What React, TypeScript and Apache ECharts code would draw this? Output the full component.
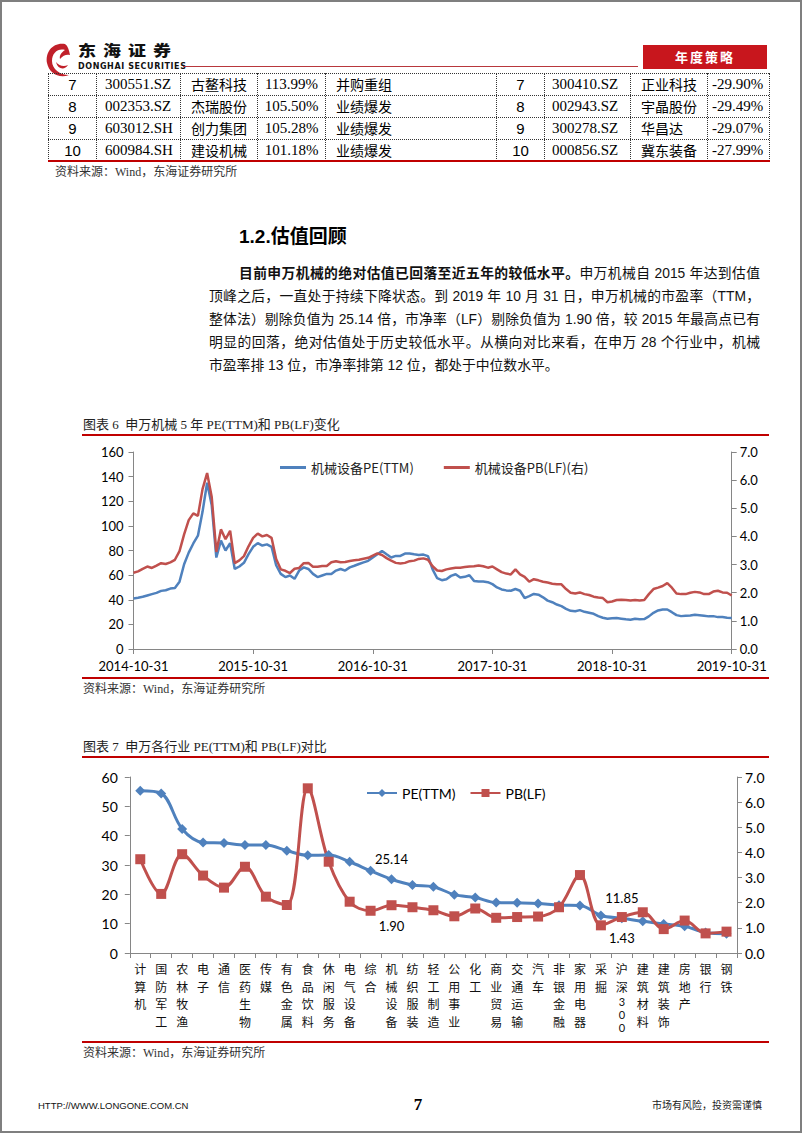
import React, { useEffect, useRef } from "react";
import * as echarts from "echarts";

// ---------- table data ----------
const GAIN_RANK = ["7", "8", "9", "10"];
const GAIN_CODE = ["300551.SZ", "002353.SZ", "603012.SH", "600984.SH"];
const GAIN_NAME = ["古鳌科技", "杰瑞股份", "创力集团", "建设机械"];
const GAIN_PCT = ["113.99%", "105.50%", "105.28%", "101.18%"];
const GAIN_REASON = ["并购重组", "业绩爆发", "业绩爆发", "业绩爆发"];
const LOSS_RANK = ["7", "8", "9", "10"];
const LOSS_CODE = ["300410.SZ", "002943.SZ", "300278.SZ", "000856.SZ"];
const LOSS_NAME = ["正业科技", "宇晶股份", "华昌达", "冀东装备"];
const LOSS_PCT = ["-29.90%", "-29.49%", "-29.07%", "-27.99%"];

// ---------- chart 6 data (sampled ~ every two weeks, 2014-10-31 .. 2019-10-31) ----------
const TREND_TICKS = ["2014-10-31", "2015-10-31", "2016-10-31", "2017-10-31", "2018-10-31", "2019-10-31"];
const TREND_SPAN_DAYS = 1826;
const PE_TREND = [
  41.1, 41.6, 42.4, 43.5, 44.6, 45.6, 47.2, 47.7, 49.1, 49.5,
  54.7, 68.8, 78.3, 85.7, 92.0, 111.4, 135.0, 116.7, 74.3, 88.0,
  80.0, 86.0, 65.0, 67.0, 70.0, 77.0, 83.0, 86.0, 84.0, 85.0,
  83.0, 68.0, 61.0, 58.4, 59.7, 57.0, 63.7, 66.3, 65.0, 61.0,
  58.4, 59.7, 61.0, 61.0, 63.7, 65.0, 63.7, 66.3, 67.6, 69.0,
  70.3, 71.6, 74.3, 76.9, 79.6, 76.9, 74.3, 75.6, 75.6, 77.5,
  77.5, 76.9, 76.4, 76.7, 75.4, 64.7, 57.5, 55.9, 56.7, 59.4,
  60.7, 58.0, 58.6, 59.9, 55.3, 54.8, 54.8, 54.3, 52.7, 50.0,
  48.4, 47.6, 47.3, 48.7, 47.3, 41.4, 43.0, 44.7, 44.1, 42.0,
  39.3, 38.0, 36.1, 34.8, 32.6, 31.0, 30.7, 31.6, 30.2, 29.4,
  28.6, 26.7, 25.4, 24.6, 24.9, 25.1, 24.6, 24.1, 23.8, 24.6,
  24.1, 24.3, 26.5, 29.4, 31.3, 32.1, 32.1, 29.9, 27.5, 26.7,
  27.0, 27.3, 27.8, 27.5, 27.0, 26.5, 26.7, 25.9, 25.9, 25.4,
  25.14,
];
const PB_TREND = [
  2.71, 2.76, 2.85, 2.93, 2.88, 2.96, 3.05, 3.02, 3.08, 3.17,
  3.48, 4.07, 4.58, 4.82, 4.73, 5.68, 6.25, 5.40, 3.45, 4.25,
  3.90, 4.20, 3.05, 3.15, 3.30, 3.65, 3.95, 4.10, 4.00, 4.05,
  3.95, 3.20, 2.83, 2.78, 2.70, 2.85, 2.88, 3.05, 3.06, 2.92,
  2.92, 2.95, 2.95, 3.08, 3.12, 3.08, 3.09, 3.13, 3.15, 3.17,
  3.21, 3.24, 3.32, 3.40, 3.34, 3.23, 3.14, 3.06, 3.04, 3.06,
  3.12, 3.14, 3.20, 3.22, 3.17, 2.94, 2.79, 2.77, 2.83, 2.86,
  2.89, 2.89, 2.91, 2.93, 2.94, 2.97, 2.94, 2.89, 2.93, 2.83,
  2.73, 2.68, 2.65, 2.83, 2.65, 2.56, 2.39, 2.48, 2.44, 2.39,
  2.36, 2.32, 2.30, 2.30, 2.13, 2.00, 1.97, 2.01, 1.95, 1.92,
  1.86, 1.83, 1.81, 1.66, 1.69, 1.74, 1.75, 1.74, 1.72, 1.74,
  1.72, 1.74, 1.95, 2.13, 2.18, 2.24, 2.34, 2.18, 1.97, 1.95,
  1.95, 2.00, 2.03, 2.01, 1.95, 1.95, 2.04, 2.07, 2.01, 2.00,
  1.90,
];

// ---------- chart 7 data ----------
const INDUSTRIES = [
  "计算机", "国防军工", "农林牧渔", "电子", "通信", "医药生物", "传媒", "有色金属", "食品饮料", "休闲服务",
  "电气设备", "综合", "机械设备", "纺织服装", "轻工制造", "公用事业", "化工", "商业贸易", "交通运输", "汽车",
  "非银金融", "家用电器", "采掘", "沪深300", "建筑材料", "建筑装饰", "房地产", "银行", "钢铁",
];
const INDUSTRY_PE = [
  55.3, 54.4, 42.3, 37.7, 37.5, 36.8, 36.8, 34.9, 33.3, 33.4,
  31.1, 28.0, 25.14, 23.2, 22.6, 19.9, 18.9, 17.2, 17.1, 16.9,
  16.3, 16.2, 12.8, 11.85, 10.8, 9.9, 9.1, 7.0, 6.6,
];
const INDUSTRY_PB = [
  3.73, 2.35, 3.93, 3.08, 2.60, 3.43, 2.24, 1.91, 6.55, 3.63,
  2.04, 1.68, 1.90, 1.82, 1.70, 1.46, 1.77, 1.40, 1.43, 1.45,
  1.82, 3.10, 1.10, 1.43, 1.62, 0.95, 1.29, 0.78, 0.85,
];
const HIGHLIGHT = ["机械设备", "沪深300"];

const BLUE = "#4F81BD";
const RED = "#C0504D";
const RULE = "#c00000";
const AXIS = "#868686";
const CJK = '"Noto Sans CJK SC", sans-serif';
const SERIF = '"Liberation Serif", "Noto Sans CJK SC", serif';
const SANS = '"Liberation Sans", "Noto Sans CJK SC", sans-serif';
const NUM = 'Lato, "Liberation Sans", sans-serif';

function trendOption(): any {
  const step = TREND_SPAN_DAYS / (PE_TREND.length - 1);
  const tickStep = TREND_SPAN_DAYS / 5;
  const axisCommon = {
    axisLine: { show: true, lineStyle: { color: AXIS, width: 1 } },
    axisTick: { show: true, length: 5, lineStyle: { color: AXIS } },
    splitLine: { show: false },
  };
  return {
    animation: false,
    grid: { left: 73.5, right: 48.3, top: 12, bottom: 27 },
    legend: {
      top: 16,
      left: 215,
      icon: "rect",
      itemWidth: 26,
      itemHeight: 3,
      itemGap: 30,
      textStyle: { fontFamily: CJK, fontSize: 13, color: "#222" },
      data: ["机械设备PE(TTM)", "机械设备PB(LF)(右)"],
    },
    xAxis: {
      type: "value",
      min: 0,
      max: TREND_SPAN_DAYS,
      interval: tickStep,
      ...axisCommon,
      axisLabel: {
        formatter: (v: number) => TREND_TICKS[Math.round(v / tickStep)] ?? "",
        fontFamily: NUM,
        fontSize: 13,
        color: "#000",
        margin: 10,
        showMinLabel: true,
        showMaxLabel: true,
      },
    },
    yAxis: [
      {
        type: "value",
        min: 0,
        max: 160,
        interval: 20,
        ...axisCommon,
        axisLabel: { fontFamily: NUM, fontSize: 13, color: "#000", margin: 10 },
      },
      {
        type: "value",
        min: 0,
        max: 7,
        interval: 1,
        position: "right",
        ...axisCommon,
        axisLabel: {
          fontFamily: NUM,
          fontSize: 13,
          color: "#000",
          margin: 8,
          formatter: (v: number) => v.toFixed(1),
        },
      },
    ],
    series: [
      {
        name: "机械设备PE(TTM)",
        type: "line",
        showSymbol: false,
        data: PE_TREND.map((v, i) => [i * step, v]),
        lineStyle: { color: BLUE, width: 2.5 },
        itemStyle: { color: BLUE },
      },
      {
        name: "机械设备PB(LF)(右)",
        type: "line",
        yAxisIndex: 1,
        showSymbol: false,
        data: PB_TREND.map((v, i) => [i * step, v]),
        lineStyle: { color: RED, width: 2.5 },
        itemStyle: { color: RED },
      },
    ],
  };
}

function industryOption(): any {
  const axisCommon = {
    axisLine: { show: true, lineStyle: { color: AXIS, width: 1 } },
    axisTick: { show: true, length: 5, lineStyle: { color: AXIS } },
    splitLine: { show: false },
  };
  const hi = HIGHLIGHT.map((n) => INDUSTRIES.indexOf(n));
  const labelFont = { fontFamily: NUM, fontSize: 13, color: "#000" };
  return {
    animation: false,
    grid: { left: 69.8, right: 43, top: 12, bottom: 87 },
    legend: {
      top: 16,
      left: 301,
      itemWidth: 30,
      itemHeight: 10,
      itemGap: 14,
      textStyle: { fontFamily: NUM, fontSize: 14, color: "#000" },
      data: ["PE(TTM)", "PB(LF)"],
    },
    xAxis: {
      type: "category",
      data: INDUSTRIES,
      ...axisCommon,
      axisTick: { show: true, length: 5, alignWithLabel: false, lineStyle: { color: AXIS } },
      axisLabel: {
        interval: 0,
        formatter: (v: string) =>
          v
            .split("")
            .map((ch) => (/[0-9]/.test(ch) ? "{d|" + ch + "}" : ch))
            .join("\n"),
        rich: { d: { fontFamily: NUM, fontSize: 11, lineHeight: 13, color: "#111" } },
        fontFamily: CJK,
        fontSize: 12,
        lineHeight: 17.5,
        color: "#111",
        margin: 7,
        verticalAlign: "top",
      },
    },
    yAxis: [
      {
        type: "value",
        min: 0,
        max: 60,
        interval: 10,
        ...axisCommon,
        axisLabel: { fontFamily: NUM, fontSize: 14, color: "#000", margin: 12 },
      },
      {
        type: "value",
        min: 0,
        max: 7,
        interval: 1,
        position: "right",
        ...axisCommon,
        axisLabel: {
          fontFamily: NUM,
          fontSize: 14,
          color: "#000",
          margin: 8,
          formatter: (v: number) => v.toFixed(1),
        },
      },
    ],
    series: [
      {
        name: "PE(TTM)",
        type: "line",
        smooth: 0.35,
        symbol: "diamond",
        symbolSize: 10,
        data: INDUSTRY_PE.map((v, i) =>
          hi.includes(i)
            ? { value: v, label: { show: true, position: "top", distance: 9, formatter: v.toFixed(2), ...labelFont } }
            : v
        ),
        lineStyle: { color: BLUE, width: 3 },
        itemStyle: { color: BLUE },
      },
      {
        name: "PB(LF)",
        type: "line",
        yAxisIndex: 1,
        smooth: 0.35,
        symbol: "rect",
        symbolSize: 10,
        data: INDUSTRY_PB.map((v, i) =>
          hi.includes(i)
            ? { value: v, label: { show: true, position: "bottom", distance: 9, formatter: v.toFixed(2), ...labelFont } }
            : v
        ),
        lineStyle: { color: RED, width: 3 },
        itemStyle: { color: RED },
      },
    ],
  };
}

const COLS = [
  { x: 48, w: 48, align: "center", pad: 0, font: SANS, size: 15 },
  { x: 96, w: 84, align: "left", pad: 8, font: SERIF, size: 15 },
  { x: 180, w: 77, align: "left", pad: 10, font: CJK, size: 14 },
  { x: 257, w: 68, align: "center", pad: 0, font: SERIF, size: 15 },
  { x: 325, w: 171, align: "left", pad: 10, font: CJK, size: 14 },
  { x: 496, w: 48, align: "center", pad: 0, font: SANS, size: 15 },
  { x: 544, w: 86, align: "left", pad: 7, font: SERIF, size: 15 },
  { x: 630, w: 77, align: "left", pad: 10, font: CJK, size: 14 },
  { x: 707, w: 62, align: "left", pad: 4, font: SERIF, size: 15 },
];
const TABLE_TOP = 73;
const ROW_H = 22;

const abs = (s: React.CSSProperties): React.CSSProperties => ({ position: "absolute", ...s });

export default function App() {
  const c6 = useRef<HTMLDivElement>(null);
  const c7 = useRef<HTMLDivElement>(null);

  useEffect(() => {
    const ch6 = echarts.init(c6.current!, null, { renderer: "svg" });
    ch6.setOption(trendOption());
    const ch7 = echarts.init(c7.current!, null, { renderer: "svg" });
    ch7.setOption(industryOption());
    return () => {
      ch6.dispose();
      ch7.dispose();
    };
  }, []);

  const rows = GAIN_RANK.map((_, r) => [
    GAIN_RANK[r], GAIN_CODE[r], GAIN_NAME[r], GAIN_PCT[r], GAIN_REASON[r],
    LOSS_RANK[r], LOSS_CODE[r], LOSS_NAME[r], LOSS_PCT[r],
  ]);
  const vLines = [...COLS.map((c) => c.x), 769];

  const paraLine = (top: number, left: number, width: number, justify: boolean, content: React.ReactNode) => (
    <div
      style={abs({
        left,
        top,
        width,
        height: 23,
        lineHeight: "23px",
        fontSize: 13.8,
        fontFamily: SANS,
        color: "#111",
        whiteSpace: "nowrap",
        textAlign: justify ? "justify" : "left",
        textAlignLast: justify ? "justify" : "left",
      } as any)}
    >
      {content}
    </div>
  );

  return (
    <div style={abs({ left: 0, top: 0, width: 802, height: 1133, background: "#fff", overflow: "hidden" })}>
      {/* page frame */}
      <div style={abs({ left: 0, top: 0, width: 802, height: 1133, border: "2px solid #7f7f7f", boxSizing: "border-box" })} />

      {/* header */}
      <svg style={abs({ left: 44, top: 40 })} width="30" height="40" viewBox="0 0 30 40">
        <path d="M21 4 C9 2 1 12 3 23 C5 33 15 39 25 35 C16 35 8 29 8 21 C8 13 14 8 21 10 C18 12 15 15 16 19 C19 15 23 14 26 15 C25 10 24 6 21 4 Z" fill="#c0202a" />
        <path d="M12 22 C15 26 20 27 24 25 C21 30 14 30 12 22 Z" fill="#c0202a" />
      </svg>
      <div style={abs({ left: 78, top: 42, fontFamily: CJK, fontWeight: 900, fontSize: 18, letterSpacing: 7, color: "#111", lineHeight: "19px", transform: "scaleY(0.8)", transformOrigin: "top left" })}>东海证券</div>
      <div style={abs({ left: 78, top: 62, fontFamily: '"DejaVu Sans", sans-serif', fontWeight: 700, fontSize: 8, letterSpacing: 0.6, color: "#111", lineHeight: "9px" })}>DONGHAI SECURITIES</div>
      <div style={abs({ left: 183, top: 66, width: 455, height: 1, background: "#b8373c" })} />
      <div style={abs({ left: 643, top: 45, width: 124, height: 24, background: "#c8161d", color: "#fff", fontFamily: CJK, fontWeight: 700, fontSize: 13, letterSpacing: 2, textAlign: "center", lineHeight: "24px" })}>年度策略</div>

      {/* table */}
      {[0, 1, 2, 3].map((r) => (
        <div key={"h" + r} style={abs({ left: 48, top: TABLE_TOP + r * ROW_H, width: 721, height: 0, borderTop: "1px dotted #333" })} />
      ))}
      {vLines.map((x, i) => (
        <div key={"v" + i} style={abs({ left: x, top: TABLE_TOP, width: 0, height: ROW_H * 4, borderLeft: "1px dotted #333" })} />
      ))}
      <div style={abs({ left: 48, top: TABLE_TOP + ROW_H * 4 - 1, width: 722, height: 2, background: RULE })} />
      {rows.map((row, r) =>
        row.map((txt, c) => {
          const col = COLS[c];
          return (
            <div
              key={r + "-" + c}
              style={abs({
                left: col.x + 1 + (col.align === "left" ? col.pad : 0),
                top: TABLE_TOP + r * ROW_H + 1,
                width: col.align === "left" ? col.w - col.pad - 1 : col.w - 1,
                height: ROW_H - 1,
                lineHeight: ROW_H - 1 + "px",
                textAlign: col.align as any,
                fontFamily: col.font,
                fontSize: col.size,
                color: "#000",
                whiteSpace: "nowrap",
              })}
            >
              {txt}
            </div>
          );
        })
      )}
      <div style={abs({ left: 55, top: 164, fontFamily: SERIF, fontSize: 12, color: "#333", lineHeight: "16px" })}>资料来源：Wind，东海证券研究所</div>

      {/* section text */}
      <div style={abs({ left: 239, top: 225, fontFamily: SANS, fontWeight: 700, fontSize: 19, color: "#000", lineHeight: "24px" })}>1.2.估值回顾</div>
      {paraLine(262, 239, 521, true, (
        <>
          <b>目前申万机械的绝对估值已回落至近五年的较低水平。</b>申万机械自 2015 年达到估值
        </>
      ))}
      {paraLine(285, 209, 551, true, "顶峰之后，一直处于持续下降状态。到 2019 年 10 月 31 日，申万机械的市盈率（TTM，")}
      {paraLine(308, 209, 551, true, "整体法）剔除负值为 25.14 倍，市净率（LF）剔除负值为 1.90 倍，较 2015 年最高点已有")}
      {paraLine(331, 209, 551, true, "明显的回落，绝对估值处于历史较低水平。从横向对比来看，在申万 28 个行业中，机械")}
      {paraLine(354, 209, 551, false, "市盈率排 13 位，市净率排第 12 位，都处于中位数水平。")}

      {/* chart 6 */}
      <div style={abs({ left: 83, top: 416, fontFamily: SERIF, fontSize: 13, color: "#222", whiteSpace: "pre", lineHeight: "17px" })}>图表 6  申万机械 5 年 PE(TTM)和 PB(LF)变化</div>
      <div style={abs({ left: 82, top: 434, width: 687, height: 2, background: RULE })} />
      <div ref={c6} style={abs({ left: 60, top: 440, width: 720, height: 236 })} />
      <div style={abs({ left: 82, top: 677, width: 687, height: 2, background: RULE })} />
      <div style={abs({ left: 83, top: 681, fontFamily: SERIF, fontSize: 12, color: "#333", lineHeight: "16px" })}>资料来源：Wind，东海证券研究所</div>

      {/* chart 7 */}
      <div style={abs({ left: 83, top: 738, fontFamily: SERIF, fontSize: 13, color: "#222", whiteSpace: "pre", lineHeight: "17px" })}>图表 7  申万各行业 PE(TTM)和 PB(LF)对比</div>
      <div style={abs({ left: 82, top: 756, width: 687, height: 2, background: RULE })} />
      <div ref={c7} style={abs({ left: 60, top: 765, width: 720, height: 275 })} />
      <div style={abs({ left: 82, top: 1041, width: 687, height: 2, background: RULE })} />
      <div style={abs({ left: 83, top: 1045, fontFamily: SERIF, fontSize: 12, color: "#333", lineHeight: "16px" })}>资料来源：Wind，东海证券研究所</div>

      {/* footer */}
      <div style={abs({ left: 38, top: 1099, fontFamily: SANS, fontSize: 9.5, color: "#111", lineHeight: "13px" })}>HTTP://WWW.LONGONE.COM.CN</div>
      <div style={abs({ left: 408, top: 1095, width: 20, textAlign: "center", fontFamily: SERIF, fontWeight: 700, fontSize: 17, color: "#000", lineHeight: "20px" })}>7</div>
      <div style={abs({ left: 640, top: 1098, width: 122, textAlign: "right", fontFamily: CJK, fontSize: 10, color: "#222", lineHeight: "14px" })}>市场有风险，投资需谨慎</div>
    </div>
  );
}
